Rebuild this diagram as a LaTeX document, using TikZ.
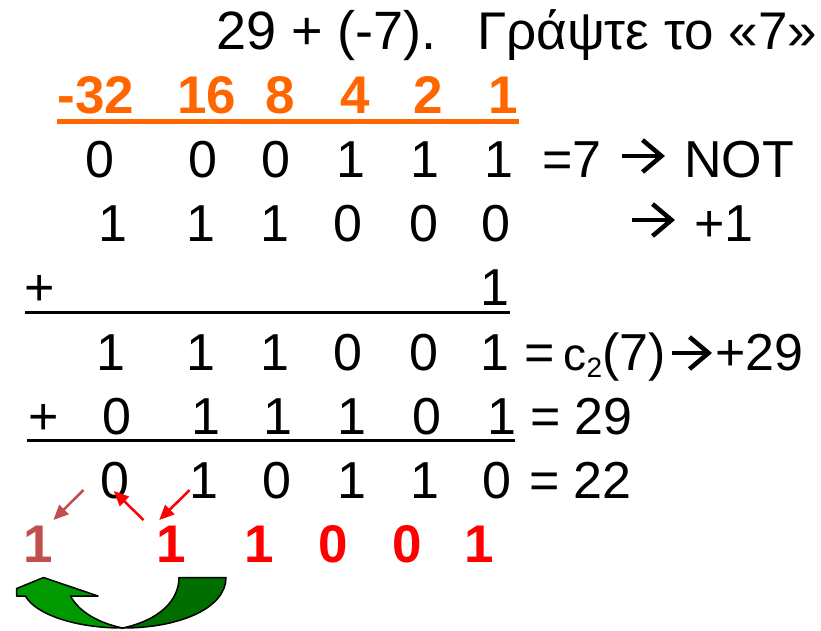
\documentclass[tikz,border=0pt]{standalone}
\usepackage{fontspec}
\setmainfont{Liberation Sans}
\usetikzlibrary{arrows.meta}
\definecolor{hdrorange}{HTML}{FF6600}
\definecolor{carrysalmon}{HTML}{C0504D}
\definecolor{greenlight}{HTML}{009900}
\definecolor{greendark}{HTML}{006F00}

\begin{document}
\begin{tikzpicture}[x=1pt,y=-1pt,
  base/.style={inner sep=0pt,outer sep=0pt,anchor=base},
  bw/.style={inner sep=0pt,outer sep=0pt,anchor=base west},
  be/.style={inner sep=0pt,outer sep=0pt,anchor=base east},
  big/.style={font=\fontsize{52}{60}\selectfont},
  ttl/.style={font=\fontsize{54}{60}\selectfont},
  ttlgr/.style={font=\fontsize{53}{60}\selectfont},
  bolddig/.style={font=\fontsize{53}{60}\selectfont\bfseries},
  rule/.style={line width=3pt},
  wingline/.style={line width=4.5pt,line join=miter,line cap=butt},
  carry/.style={line width=2.5pt,-{Triangle[length=15pt,width=13pt]}},
]
\useasboundingbox (0,0) rectangle (821,630);

% title
\node[bw,ttl] (t1) at (216,49) {29 + (-7).};
\node[be,ttlgr] (t2) at (817,49) {Γράψτε το «7»};

% weights row
\foreach \x/\w [count=\i] in {96/-32,207/16,280.5/8,355/4,428.5/2,503.5/1}
  \node[base,bolddig,text=hdrorange] (w\i) at (\x,113) {\w};
\draw[hdrorange,line width=5pt] (57,121) -- (519,121);

% 7 and its complement
\foreach \x/\d [count=\i] in {100/0,203/0,275.5/0,350.5/1,424.7/1,498.7/1}
  \node[base,big] (a\i) at (\x,177) {\d};
\foreach \x/\d [count=\i] in {113/1,201/1,275/1,348/0,423.5/0,496/0}
  \node[base,big] (b\i) at (\x,241) {\d};
\node[base,big] (plusone) at (39.6,305) {+};
\node[base,big] (one) at (495,305) {1};
\draw[rule] (25,312) -- (510,312);
\foreach \x/\d [count=\i] in {111.3/1,201/1,275/1,348/0,423.5/0,495.3/1}
  \node[base,big] (c\i) at (\x,370) {\d};

% adding 29
\node[base,big] (plusb) at (44,434) {+};
\foreach \x/\d [count=\i] in {117/0,206/1,278.3/1,352.3/1,427/0,502.2/1}
  \node[base,big] (d\i) at (\x,434) {\d};
\draw[rule] (27,440) -- (515,440);
\foreach \x/\d [count=\i] in {115.4/0,204.3/1,277/0,352.3/1,424.7/1,497/0}
  \node[base,big] (e\i) at (\x,498) {\d};

% carries
\node[base,bolddig,text=carrysalmon] (k1) at (38.5,562) {1};
\foreach \x/\d [count=\i from 2] in {171/1,259/1,333/0,407/0,479/1}
  \node[base,bolddig,text=red] (k\i) at (\x,562) {\d};

% right-hand remarks
\node[bw,big] (r1) at (542,177) {=7};
\node[bw,big] (r1b) at (684,177) {NOT};
\node[bw,big] (r2) at (694,241) {+1};
\node[bw,big] (r4) at (524,370) {=\hspace{0.18em}{\fontsize{46}{50}\selectfont c}\raisebox{-7pt}{\fontsize{28}{30}\selectfont 2}(7)};
\node[bw,big] (r4b) at (715.5,370) {+29};
\node[bw,big] (r5) at (530,434) {= 29};
\node[bw,big] (r6) at (529,498) {= 22};

% open-headed arrows between the remarks
\coordinate (ar1s) at (621.5,156); \coordinate (ar1e) at (661.5,156);
\coordinate (ar2s) at (631.5,220); \coordinate (ar2e) at (671.5,220);
\coordinate (ar4s) at (671.5,353); \coordinate (ar4e) at (708.5,353);
\foreach \s/\e in {ar1s/ar1e,ar2s/ar2e,ar4s/ar4e}{
  \draw[wingline] (\s) -- (\e);
  \draw[wingline] (\e) ++(-19,-16) -- (\e) -- ++(-19,16);
}

% carry arrows
\coordinate (s1) at (83.5,490); \coordinate (s2) at (53.4,520);
\draw[carry,carrysalmon] (s1) -- (s2);
\coordinate (p1) at (143.5,520); \coordinate (p2) at (113.8,491);
\draw[carry,red] (p1) -- (p2);
\coordinate (q1) at (189.7,490); \coordinate (q2) at (159.2,520);
\draw[carry,red] (q1) -- (q2);

% end-around carry arrow
\draw[line width=1.5pt,fill=greenlight,line join=round]
  (122.5,628) .. controls (75,628) and (35,614) .. (25.5,596)
  -- (16.6,596) -- (16.6,588.5) -- (43.5,577.5) -- (98,596) -- (70.5,596)
  .. controls (78,610) and (95,622) .. (122.5,628) -- cycle;
\draw[line width=1.5pt,fill=greendark,line join=round]
  (122.5,628) .. controls (160,620) and (179,600) .. (179,577.5)
  -- (226,577.5) .. controls (226,608) and (180,628) .. (122.5,628) -- cycle;
\end{tikzpicture}
\end{document}
